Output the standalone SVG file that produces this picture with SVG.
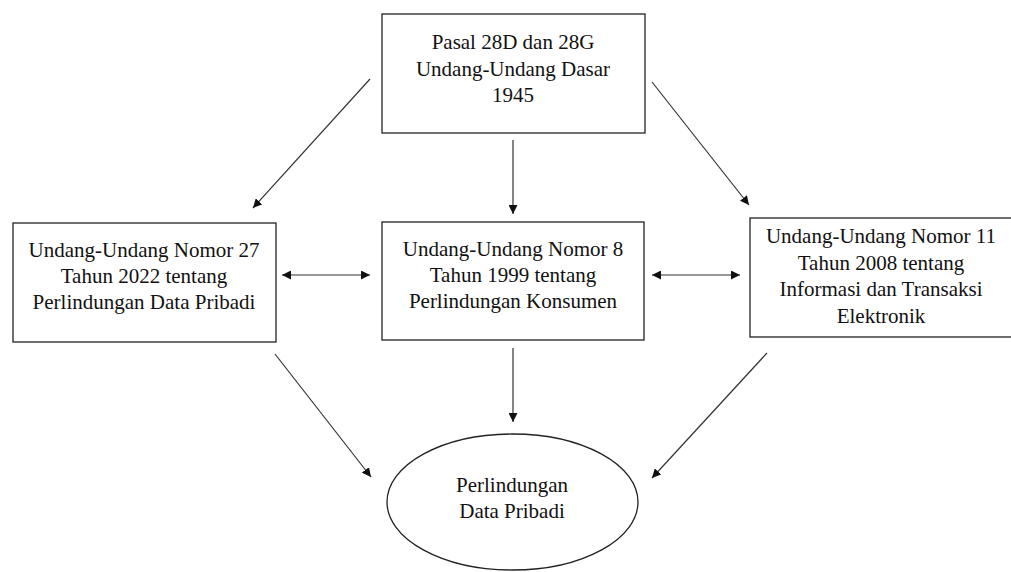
<svg xmlns="http://www.w3.org/2000/svg" width="1011" height="572" viewBox="0 0 1011 572">
<style>
.box{fill:#fff;stroke:#222;stroke-width:1.3}
.t{font-family:"Liberation Serif","Times New Roman",serif;font-size:21px;fill:#111;text-anchor:middle}
.c{stroke:#333;stroke-width:1.2;fill:none}
</style>
<defs>
<marker id="ah" viewBox="0 0 10 10" refX="10" refY="5" markerWidth="9" markerHeight="9" markerUnits="userSpaceOnUse" orient="auto-start-reverse">
<path d="M0,0 L10,5 L0,10 z" fill="#111"/>
</marker>
</defs>
<rect width="1011" height="572" fill="#fff"/>
<g id="connectors">
<line class="c" x1="370" y1="79" x2="253" y2="208" marker-end="url(#ah)"/>
<line class="c" x1="513" y1="140" x2="513" y2="214" marker-end="url(#ah)"/>
<line class="c" x1="652" y1="82" x2="749" y2="205" marker-end="url(#ah)"/>
<line class="c" x1="282" y1="275" x2="370" y2="275" marker-start="url(#ah)" marker-end="url(#ah)"/>
<line class="c" x1="652" y1="275" x2="740" y2="275" marker-start="url(#ah)" marker-end="url(#ah)"/>
<line class="c" x1="275" y1="354" x2="371" y2="477" marker-end="url(#ah)"/>
<line class="c" x1="513" y1="348" x2="513" y2="422" marker-end="url(#ah)"/>
<line class="c" x1="767" y1="353" x2="652" y2="478" marker-end="url(#ah)"/>
</g>
<g id="uud1945">
<rect class="box" x="382" y="14" width="263" height="119"/>
<text class="t" x="513" y="49">Pasal 28D dan 28G</text>
<text class="t" x="513" y="76">Undang-Undang Dasar</text>
<text class="t" x="513" y="102">1945</text>
</g>
<g id="uu27">
<rect class="box" x="13" y="223" width="263" height="119"/>
<text class="t" x="144" y="257">Undang-Undang Nomor 27</text>
<text class="t" x="144" y="283">Tahun 2022 tentang</text>
<text class="t" x="144" y="309">Perlindungan Data Pribadi</text>
</g>
<g id="uu8">
<rect class="box" x="382" y="222" width="262" height="118"/>
<text class="t" x="513" y="256">Undang-Undang Nomor 8</text>
<text class="t" x="513" y="282">Tahun 1999 tentang</text>
<text class="t" x="513" y="308">Perlindungan Konsumen</text>
</g>
<g id="uu11">
<rect class="box" x="750" y="218" width="270" height="119"/>
<text class="t" x="881" y="243">Undang-Undang Nomor 11</text>
<text class="t" x="881" y="270">Tahun 2008 tentang</text>
<text class="t" x="881" y="296">Informasi dan Transaksi</text>
<text class="t" x="881" y="323">Elektronik</text>
</g>
<g id="pdp">
<ellipse class="box" cx="512.5" cy="502" rx="125.5" ry="68"/>
<text class="t" x="512" y="492">Perlindungan</text>
<text class="t" x="512" y="518">Data Pribadi</text>
</g>
</svg>
